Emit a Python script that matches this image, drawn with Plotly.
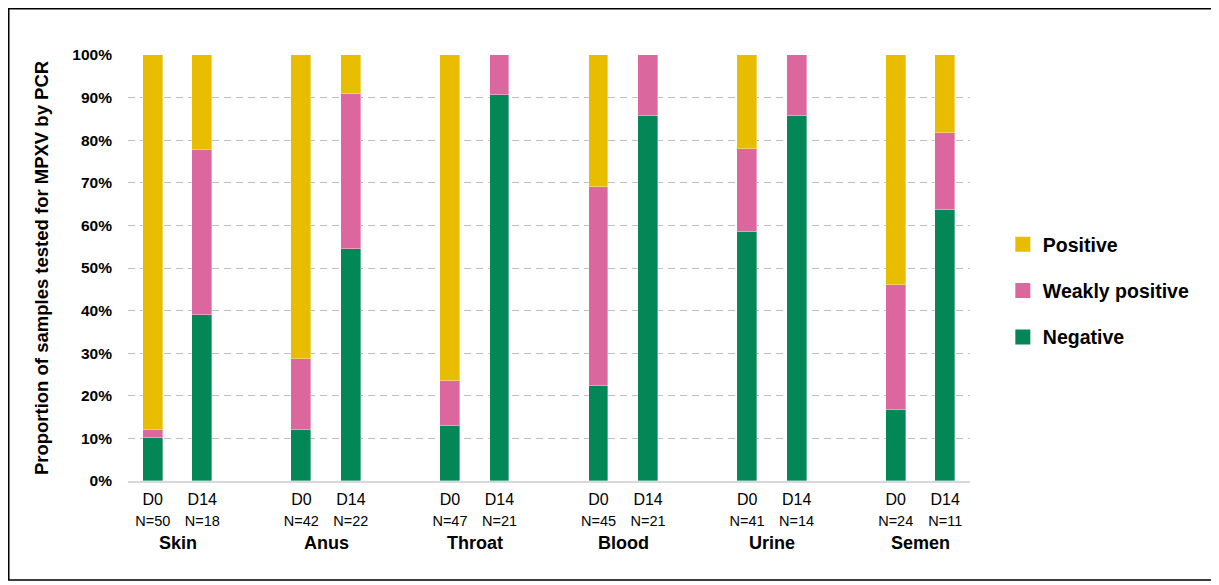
import plotly.graph_objects as go

sites = ["Skin", "Anus", "Throat", "Blood", "Urine", "Semen"]
days = ["D0", "D14"]
n_samples = [50, 18, 42, 22, 47, 21, 45, 21, 41, 14, 24, 11]

negative = [10.0, 38.9, 11.9, 54.5, 12.8, 90.5, 22.2, 85.7, 58.5, 85.7, 16.7, 63.6]
weakly_positive = [2.0, 38.9, 16.7, 36.4, 10.6, 9.5, 46.7, 14.3, 19.5, 14.3, 29.2, 18.2]
positive = [88.0, 22.2, 71.4, 9.1, 76.6, 0.0, 31.1, 0.0, 22.0, 0.0, 54.2, 18.2]

colors = {"Positive": "#E8BD00", "Weakly positive": "#DB679E", "Negative": "#038756"}
ranks = {"Positive": 1, "Weakly positive": 2, "Negative": 3}

# positions: each site has D0, D14 then a gap slot
xpos = []
for i in range(len(sites)):
    for j in range(len(days)):
        xpos.append(i * 3 + j)
ticktext = []
for i in range(len(sites)):
    for j, d in enumerate(days):
        n = n_samples[i * 2 + j]
        ticktext.append(f"{d}<br><span style='font-size:14.5px'>N={n}</span>")

fig = go.Figure()
for name, vals in [("Negative", negative), ("Weakly positive", weakly_positive), ("Positive", positive)]:
    fig.add_trace(go.Bar(
        x=xpos, y=[v / 100 for v in vals], name=name,
        marker=dict(color=colors[name], line=dict(color="rgba(255,255,255,0.6)", width=0.6)),
        width=0.4, showlegend=False,
    ))
# legend entries with larger square swatches
for name in ["Positive", "Weakly positive", "Negative"]:
    fig.add_trace(go.Scatter(
        x=[None], y=[None], mode="markers", name=name,
        marker=dict(symbol="square", size=15, color=colors[name]),
        legendgroup=name, legendrank=ranks[name], showlegend=True,
    ))

FONT = "Liberation Sans, Arial, sans-serif"
fig.update_layout(
    barmode="stack",
    width=1211, height=577,
    margin=dict(l=120, r=249, t=47, b=104),
    paper_bgcolor="white", plot_bgcolor="white",
    font=dict(family=FONT, color="black"),
    showlegend=True,
    legend=dict(
        x=1.039, y=0.446, xanchor="left", yanchor="middle",
        traceorder="grouped", tracegroupgap=18,
        font=dict(size=19.5, family=FONT, weight="bold"),
        itemwidth=30,
    ),
    bargap=0,
)
fig.update_xaxes(
    range=[-0.5, 16.5], tickmode="array", tickvals=xpos, ticktext=ticktext,
    tickfont=dict(size=16), showgrid=False, zeroline=False,
    showline=True, linecolor="#d9d9d9", linewidth=1.5, ticks="",
    ticklabelstandoff=3,
)
fig.update_yaxes(
    range=[0, 1], tickformat=".0%", dtick=0.1,
    tickfont=dict(size=15.5, weight="bold"),
    showgrid=True, gridcolor="#bfbfbf", griddash="7px,5px", gridwidth=1.3,
    zeroline=False, showline=False, ticks="", ticklabelstandoff=15,
    title=dict(text="Proportion of samples tested for MPXV by PCR",
               font=dict(size=18.5, weight="bold"), standoff=18),
)
for i, s in enumerate(sites):
    fig.add_annotation(
        x=i * 3 + 0.5, xref="x", y=-0.1455, yref="paper", yanchor="middle",
        text=f"<b>{s}</b>", showarrow=False, font=dict(size=18, family=FONT),
    )
fig.add_shape(type="rect", xref="paper", yref="paper",
              x0=-0.1416, x1=1.2886, y0=-0.2324, y1=1.1086,
              line=dict(color="black", width=1.5), fillcolor="rgba(0,0,0,0)", layer="above")

fig.write_html("out.html")
